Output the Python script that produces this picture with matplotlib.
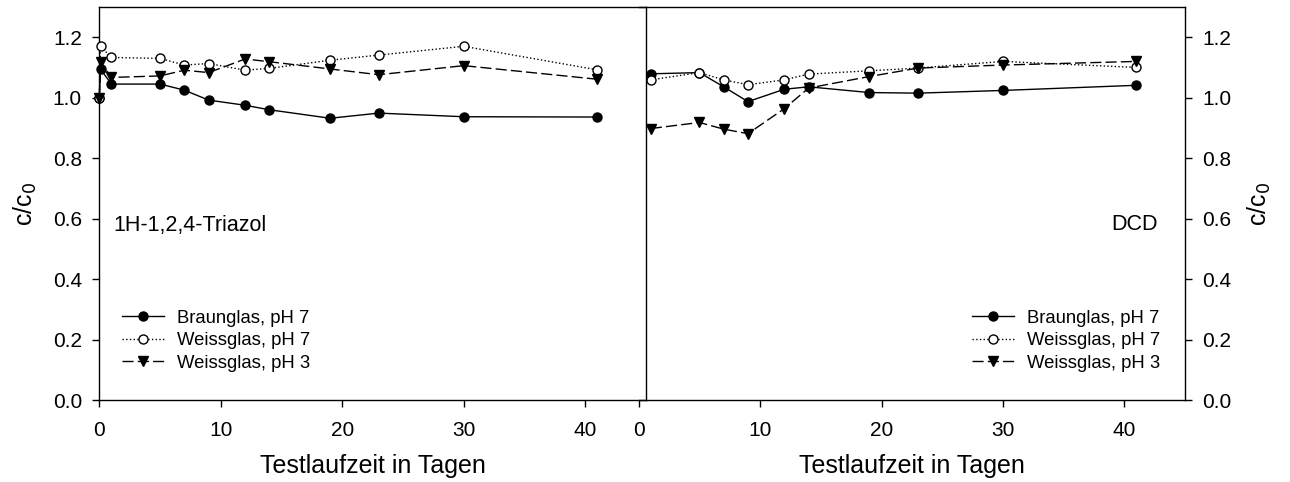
import matplotlib
matplotlib.use("Agg")
import matplotlib.pyplot as plt

plt.rcParams['font.family'] = ['Liberation Sans', 'DejaVu Sans']

# 1H-1,2,4-Triazol
tage_tri = [0, 0.1, 1, 5, 7, 9, 12, 14, 19, 23, 30, 41]
braun7_tri = [1.00, 1.094, 1.045, 1.045, 1.025, 0.992, 0.975, 0.960, 0.932, 0.949, 0.937, 0.936]
weiss7_tri = [1.00, 1.170, 1.133, 1.130, 1.108, 1.113, 1.091, 1.097, 1.124, 1.141, 1.170, 1.092]
weiss3_tri = [1.00, 1.117, 1.067, 1.072, 1.091, 1.083, 1.128, 1.119, 1.095, 1.076, 1.106, 1.061]

# DCD
tage_dcd = [1, 5, 7, 9, 12, 14, 19, 23, 30, 41]
braun7_dcd = [1.079, 1.083, 1.036, 0.987, 1.028, 1.036, 1.017, 1.015, 1.024, 1.041]
weiss7_dcd = [1.059, 1.083, 1.059, 1.043, 1.059, 1.078, 1.089, 1.098, 1.120, 1.100]
weiss3_dcd = [0.898, 0.918, 0.896, 0.881, 0.964, 1.032, 1.070, 1.098, 1.108, 1.120]

labels = ["Braunglas, pH 7", "Weissglas, pH 7", "Weissglas, pH 3"]

fig = plt.figure(figsize=(12.9, 4.82), dpi=100)
ax2 = fig.add_axes([638.7 / 1290, 82 / 482, 546.3 / 1290, 393 / 482])
ax1 = fig.add_axes([99.3 / 1290, 82 / 482, 546.7 / 1290, 393 / 482])
ax1.patch.set_visible(False)


def draw(ax, x, b7, w7, w3):
    ax.plot(x, b7, '-', color='black', lw=1, marker='o', ms=6.5,
            mfc='black', mec='black', label=labels[0], clip_on=False, zorder=3)
    ax.plot(x, w7, ':', color='black', lw=1, marker='o', ms=6.5,
            mfc='white', mec='black', label=labels[1], clip_on=False, zorder=3)
    ax.plot(x, w3, color='black', lw=1, ls=(0, (8, 3)), marker='v', ms=7,
            mfc='black', mec='black', label=labels[2], clip_on=False, zorder=3)
    ax.set_xlim(0, 45)
    ax.set_ylim(0, 1.3)
    ax.set_xticks([0, 10, 20, 30, 40])
    ax.set_yticks([0, 0.2, 0.4, 0.6, 0.8, 1.0, 1.2])
    ax.set_yticklabels(["0.0", "0.2", "0.4", "0.6", "0.8", "1.0", "1.2"])
    ax.tick_params(labelsize=15, direction='out', length=5, width=1)
    ax.tick_params(axis='x', pad=10)
    ax.tick_params(axis='y', pad=7.5)
    ax.set_xlabel("Testlaufzeit in Tagen", fontsize=18, labelpad=10)
    for s in ax.spines.values():
        s.set_linewidth(1)
    leg = ax.legend(loc='lower left', frameon=False, fontsize=13.3,
                    handlelength=2.3, handletextpad=0.7, labelspacing=0.3,
                    borderaxespad=0)
    return leg


leg1 = draw(ax1, tage_tri, braun7_tri, weiss7_tri, weiss3_tri)
leg1.set_bbox_to_anchor((15 / 546.7, 21 / 393), transform=ax1.transAxes)
ax1.set_ylabel("c/c$_0$", fontsize=18, labelpad=10)
ax1.text(14 / 546.7, 175 / 393, "1H-1,2,4-Triazol", transform=ax1.transAxes,
         fontsize=15.5, va='center', ha='left')

leg2 = draw(ax2, tage_dcd, braun7_dcd, weiss7_dcd, weiss3_dcd)
leg2.set_bbox_to_anchor((325.5 / 546.3, 21 / 393), transform=ax2.transAxes)
ax2.spines['left'].set_visible(False)
ax2.yaxis.tick_right()
ax2.yaxis.set_label_position('right')
ax2.set_ylabel("c/c$_0$", fontsize=18, labelpad=10)
ax2.text(519 / 546.3, 175 / 393, "DCD", transform=ax2.transAxes,
         fontsize=15.5, va='center', ha='right')

fig.savefig("out.png", dpi=100)
